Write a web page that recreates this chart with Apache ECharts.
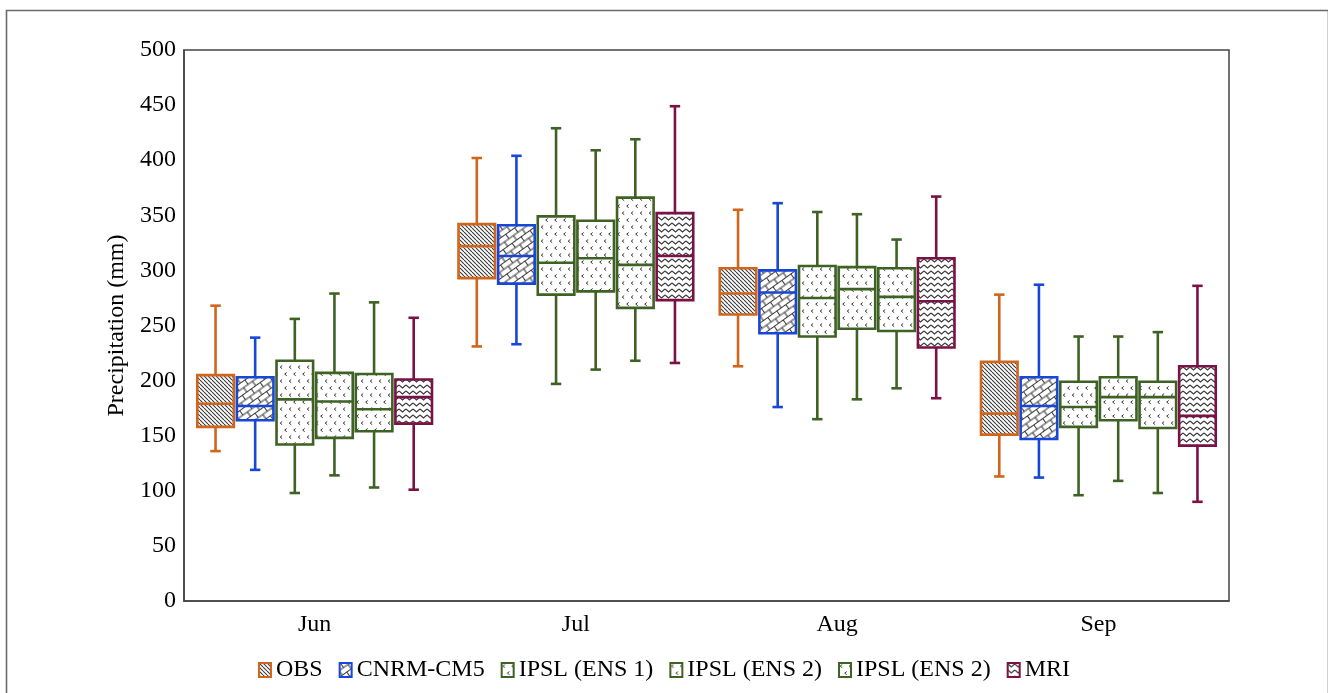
<!DOCTYPE html>
<html>
<head>
<meta charset="utf-8">
<script src="https://cdn.jsdelivr.net/npm/echarts@6/dist/echarts.min.js"></script>
<style>
html,body{margin:0;padding:0;background:#fff;}
#chart{width:1328px;height:693px;}
</style>
</head>
<body>
<div id="chart"></div>
<script>
// ---- data ----
const categories = ['Jun', 'Jul', 'Aug', 'Sep'];
const seriesNames = ['OBS', 'CNRM-CM5', 'IPSL (ENS 1)', 'IPSL (ENS 2)', 'IPSL (ENS 2)\u200b', 'MRI'];
const yTicks = [0, 50, 100, 150, 200, 250, 300, 350, 400, 450, 500];
// each row: [lower whisker, Q1, median, Q3, upper whisker] for Jun, Jul, Aug, Sep
const obs   = [[136, 158, 179, 205, 268], [231, 293, 322, 342, 402], [213, 260, 279, 302, 355], [113, 151, 170, 217, 278]];
const cnrm  = [[119, 164, 177, 203, 239], [233, 288, 313, 341, 404], [176, 243, 280, 300, 361], [112, 147, 177, 203, 287]];
const ipsl1 = [[98, 142, 183, 218, 256], [197, 278, 307, 349, 429], [165, 240, 275, 304, 353], [96, 158, 176, 199, 240]];
const ipsl2 = [[114, 148, 181, 207, 279], [210, 281, 311, 345, 409], [183, 247, 283, 303, 351], [109, 164, 185, 203, 240]];
const ipsl3 = [[103, 154, 174, 206, 271], [218, 266, 305, 366, 419], [193, 245, 276, 302, 328], [98, 157, 185, 199, 244]];
const mri   = [[101, 161, 185, 201, 257], [216, 273, 313, 352, 449], [184, 230, 272, 311, 367], [90, 141, 168, 213, 286]];
const allSeries = [obs, cnrm, ipsl1, ipsl2, ipsl3, mri];

// ---- styles ----
const colors = ['#d0661c', '#1746d9', '#3e6224', '#3e6224', '#3e6224', '#7b1145'];
const FONT = '"Liberation Serif", "Times New Roman", serif';
const HATCH = '#3a3a3a';

function mkCanvas(w, h) {
  const c = document.createElement('canvas');
  c.width = w; c.height = h;
  const ctx = c.getContext('2d');
  ctx.fillStyle = '#fff';
  ctx.fillRect(0, 0, w, h);
  return [c, ctx];
}
function diagPattern() {
  const s = 4;
  const [c, ctx] = mkCanvas(s, s);
  ctx.strokeStyle = HATCH; ctx.lineWidth = 1.1;
  for (let k = -1; k <= 1; k++) {
    ctx.beginPath(); ctx.moveTo(k * s, 0); ctx.lineTo(k * s + s, s); ctx.stroke();
  }
  return { image: c, repeat: 'repeat' };
}
function brickPattern() {
  const w = 11, h = 11;
  const [c, ctx] = mkCanvas(w, h);
  ctx.strokeStyle = HATCH; ctx.lineWidth = 1.1;
  ctx.beginPath();
  ctx.moveTo(0, 0.5); ctx.lineTo(w, 0.5);
  ctx.moveTo(0, 6); ctx.lineTo(w, 6);
  ctx.moveTo(0.5, 0.5); ctx.lineTo(0.5, 6);
  ctx.moveTo(6, 6); ctx.lineTo(6, h);
  ctx.stroke();
  return { image: c, repeat: 'repeat', rotation: -0.62 };
}
function chevronPattern() {
  const w = 9, h = 14;
  const [c, ctx] = mkCanvas(w, h);
  ctx.strokeStyle = '#333'; ctx.lineWidth = 1;
  function mark(x, y) {
    ctx.beginPath();
    ctx.moveTo(x + 2.2, y); ctx.lineTo(x + 0.2, y + 1.6); ctx.lineTo(x + 2.2, y + 3.2);
    ctx.stroke();
  }
  mark(1, 1.5); mark(5.5, 8.5);
  return { image: c, repeat: 'repeat' };
}
function wavePattern() {
  const w = 7, h = 6;
  const [c, ctx] = mkCanvas(w, h);
  ctx.strokeStyle = HATCH; ctx.lineWidth = 1.2;
  ctx.beginPath();
  ctx.moveTo(0, 1); ctx.lineTo(3.5, 4); ctx.lineTo(7, 1);
  ctx.stroke();
  return { image: c, repeat: 'repeat' };
}
const patterns = [diagPattern(), brickPattern(), chevronPattern(), chevronPattern(), chevronPattern(), wavePattern()];

const chart = echarts.init(document.getElementById('chart'), null, { renderer: 'canvas' });

function renderItem(params, api) {
  const sIdx = params.seriesIndex;
  const n = seriesNames.length;
  const cat = api.value(0);
  const band = api.size([1, 0])[0];
  const off = (sIdx - (n - 1) / 2) * band * 0.1517;
  const pLow = api.coord([cat, api.value(1)]);
  const pQ1 = api.coord([cat, api.value(2)]);
  const pMed = api.coord([cat, api.value(3)]);
  const pQ3 = api.coord([cat, api.value(4)]);
  const pHigh = api.coord([cat, api.value(5)]);
  const cx = pLow[0] + off;
  const hw = band * 0.07;
  const capHw = band * 0.02;
  const color = colors[sIdx];
  const lw = 2.6;
  const ls = { stroke: color, lineWidth: lw };
  return {
    type: 'group',
    children: [
      { type: 'line', shape: { x1: cx, y1: pHigh[1], x2: cx, y2: pQ3[1] }, style: ls },
      { type: 'line', shape: { x1: cx, y1: pQ1[1], x2: cx, y2: pLow[1] }, style: ls },
      { type: 'line', shape: { x1: cx - capHw, y1: pHigh[1], x2: cx + capHw, y2: pHigh[1] }, style: ls },
      { type: 'line', shape: { x1: cx - capHw, y1: pLow[1], x2: cx + capHw, y2: pLow[1] }, style: ls },
      { type: 'rect', shape: { x: cx - hw, y: pQ3[1], width: 2 * hw, height: pQ1[1] - pQ3[1] },
        style: { fill: patterns[sIdx], stroke: color, lineWidth: lw } },
      { type: 'line', shape: { x1: cx - hw, y1: pMed[1], x2: cx + hw, y2: pMed[1] }, style: ls }
    ]
  };
}

const series = allSeries.map((rows, i) => ({
  name: seriesNames[i],
  type: 'custom',
  renderItem: renderItem,
  itemStyle: { color: patterns[i], borderColor: colors[i], borderWidth: 2 },
  encode: { x: 0, y: [1, 2, 3, 4, 5] },
  data: rows.map((r, ci) => [ci].concat(r)),
  z: 2
}));

const option = {
  animation: false,
  backgroundColor: '#fff',
  textStyle: { fontFamily: FONT },
  graphic: [{
    type: 'rect', left: 4, top: 8, silent: true, z: -10,
    shape: { width: 1322, height: 720 },
    style: { fill: 'none', stroke: '#6a6a6a', lineWidth: 1.6 }
  }],
  grid: {
    left: 184, top: 50, width: 1045, height: 551,
    show: true, borderColor: '#444', borderWidth: 1.5, backgroundColor: 'transparent'
  },
  legend: {
    data: seriesNames.map((nm, i) => ({
      name: nm,
      icon: 'rect',
      itemStyle: { color: patterns[i], borderColor: colors[i], borderWidth: 2 }
    })),
    formatter: nm => nm.replace('\u200b', ''),
    left: 'center', top: 653,
    itemWidth: 12, itemHeight: 14, itemGap: 16,
    textStyle: { fontFamily: FONT, fontSize: 24, color: '#000' }
  },
  xAxis: {
    type: 'category',
    data: categories,
    axisLine: { show: true, lineStyle: { color: '#444', width: 1.5 } },
    axisTick: { show: false },
    axisLabel: { fontFamily: FONT, fontSize: 24, color: '#000', margin: 12 },
    splitLine: { show: false }
  },
  yAxis: {
    type: 'value',
    min: yTicks[0], max: yTicks[yTicks.length - 1], interval: yTicks[1] - yTicks[0],
    name: 'Precipitation (mm)',
    nameLocation: 'middle', nameGap: 54,
    nameTextStyle: { fontFamily: FONT, fontSize: 24, color: '#000' },
    axisLine: { show: true, lineStyle: { color: '#444', width: 1.5 } },
    axisTick: { show: false },
    axisLabel: { fontFamily: FONT, fontSize: 24, color: '#000', margin: 8 },
    splitLine: { show: false }
  },
  series: series
};
chart.setOption(option);
</script>
</body>
</html>
